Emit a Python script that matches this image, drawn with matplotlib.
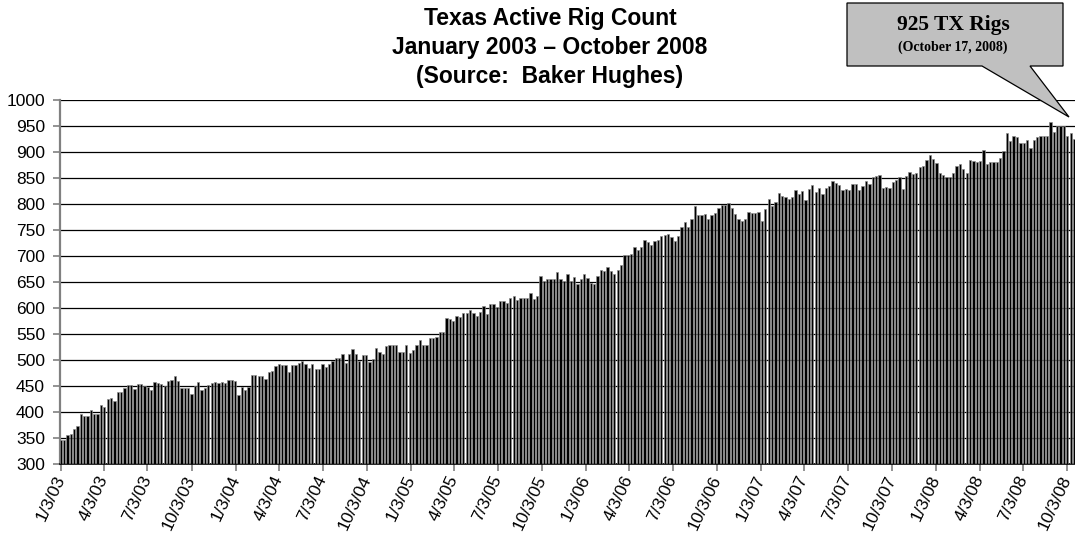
import matplotlib
matplotlib.use('Agg')
import matplotlib.pyplot as plt
import pandas as pd
from matplotlib.patches import Polygon
from matplotlib.transforms import ScaledTranslation

# Weekly Texas active rig count (Baker Hughes), first week 1/3/03, last 10/17/08
rigs = [
    347, 347, 355, 358, 368, 373, 397, 392, 393, 403, 397, 397, 413, 410, 425, 427,
    421, 438, 438, 447, 452, 452, 445, 453, 454, 450, 449, 442, 457, 455, 454, 450,
    460, 461, 469, 460, 447, 446, 446, 434, 450, 457, 442, 446, 452, 456, 458, 456,
    458, 456, 461, 461, 460, 432, 449, 442, 448, 471, 471, 469, 469, 463, 477, 478,
    488, 493, 490, 490, 476, 490, 490, 494, 498, 492, 484, 492, 482, 482, 492, 486,
    492, 498, 504, 504, 511, 494, 512, 522, 511, 499, 509, 509, 497, 501, 524, 516,
    512, 526, 528, 529, 528, 515, 515, 528, 513, 520, 529, 538, 528, 528, 543, 543,
    545, 554, 553, 580, 578, 575, 585, 582, 591, 591, 596, 591, 585, 593, 604, 589,
    608, 608, 601, 613, 613, 610, 620, 624, 615, 619, 619, 619, 628, 618, 624, 662,
    651, 656, 656, 656, 669, 656, 651, 665, 651, 660, 646, 656, 665, 657, 649, 647,
    662, 674, 672, 678, 671, 666, 674, 683, 702, 702, 704, 718, 712, 718, 731, 726,
    722, 728, 731, 738, 740, 742, 736, 729, 739, 756, 766, 756, 772, 796, 779, 779,
    781, 771, 779, 782, 792, 799, 799, 801, 793, 781, 772, 768, 771, 784, 782, 782,
    784, 767, 790, 809, 796, 803, 822, 815, 813, 810, 813, 826, 819, 825, 808, 829,
    837, 824, 831, 819, 830, 835, 844, 841, 837, 826, 828, 826, 838, 839, 826, 835,
    845, 838, 851, 854, 855, 830, 833, 831, 843, 847, 851, 829, 854, 861, 858, 859,
    872, 873, 885, 894, 886, 878, 860, 856, 851, 851, 859, 874, 876, 867, 860, 885,
    882, 881, 882, 904, 876, 881, 881, 881, 888, 902, 936, 922, 931, 929, 917, 917,
    924, 908, 923, 928, 931, 931, 931, 958, 939, 950, 950, 950, 931, 936, 925,
]
first_week = '2003-01-03'
weeks = pd.date_range(first_week, periods=len(rigs), freq='7D')

x_tick_labels = ['1/3/03', '4/3/03', '7/3/03', '10/3/03', '1/3/04', '4/3/04', '7/3/04',
                 '10/3/04', '1/3/05', '4/3/05', '7/3/05', '10/3/05', '1/3/06', '4/3/06',
                 '7/3/06', '10/3/06', '1/3/07', '4/3/07', '7/3/07', '10/3/07', '1/3/08',
                 '4/3/08', '7/3/08', '10/3/08']
x_tick_dates = pd.to_datetime(x_tick_labels, format='%m/%d/%y')
y_ticks = list(range(300, 1001, 50))

title_lines = ['Texas Active Rig Count', 'January 2003 \u2013 October 2008',
               '(Source:  Baker Hughes)']
callout_main = '925 TX Rigs'
callout_sub = '(October 17, 2008)'

plt.rcParams['font.family'] = ['Liberation Sans', 'DejaVu Sans']

W, H = 1075, 537
fig = plt.figure(figsize=(W / 100, H / 100), dpi=100)
ax = fig.add_axes([60.2 / W, (H - 464) / H, (W - 60.2) / W, (464 - 100) / H])

ax.bar(weeks, rigs, width=4.8, color='black', edgecolor='#8c8c8c', linewidth=0.45,
       align='center', zorder=3)

ax.set_ylim(300, 1000)
ax.set_yticks(y_ticks)
ax.set_yticklabels([str(v) for v in y_ticks], fontsize=12.5)
ax.set_xlim(pd.Timestamp(first_week) - pd.Timedelta(days=1),
            pd.Timestamp(first_week) + pd.Timedelta(days=2116))
ax.set_xticks(x_tick_dates)
ax.set_xticklabels(x_tick_labels, fontsize=12.5, rotation=65, ha='right',
                   va='center', rotation_mode='anchor')
shift = ScaledTranslation(3 / 100, 0, fig.dpi_scale_trans)
for lbl in ax.get_xticklabels():
    lbl.set_transform(lbl.get_transform() + shift)
ax.tick_params(axis='x', direction='out', length=5, color='#808080', width=1.2, pad=4)
ax.tick_params(axis='y', direction='out', length=5, color='#808080', width=1.2, pad=6)

ax.grid(axis='y', color='black', linewidth=0.9, zorder=0)
ax.set_axisbelow(True)
for s in ['top', 'right']:
    ax.spines[s].set_visible(False)
ax.spines['left'].set_color('#808080')
ax.spines['left'].set_linewidth(1.6)
ax.spines['bottom'].set_color('black')
ax.spines['bottom'].set_linewidth(1.2)

# Title
for k, line in enumerate(title_lines):
    fig.text(550 / W, 1 - (18 + 29.5 * k) / H, line, ha='center', va='center',
             fontsize=16.5, fontweight='bold')

# Callout box with pointer
def fp(x, y):
    return (x / W, 1 - y / H)

pts = [fp(847, 3), fp(1063, 3), fp(1063, 66), fp(1030, 66), fp(1069, 117),
       fp(982, 66), fp(847, 66)]
fig.patches.append(Polygon(pts, closed=True, facecolor='#c0c0c0', edgecolor='black',
                           linewidth=0.9, transform=fig.transFigure, figure=fig))
fig.text(953 / W, 1 - 25 / H, callout_main, ha='center', va='center', fontsize=15.5,
         fontweight='bold', family=['Liberation Serif', 'DejaVu Serif'])
fig.text(953 / W, 1 - 47 / H, callout_sub, ha='center', va='center', fontsize=10,
         fontweight='bold', family=['Liberation Serif', 'DejaVu Serif'])

fig.savefig('out.png', dpi=100)
